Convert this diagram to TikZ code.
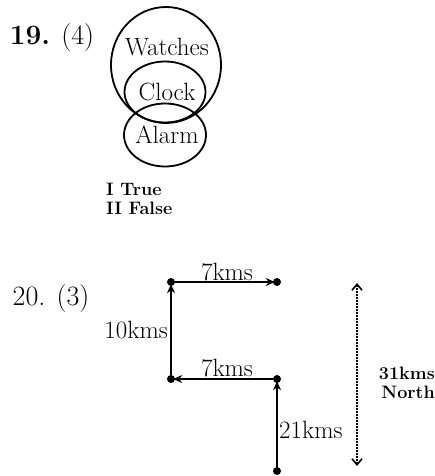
\documentclass[tikz,border=0pt]{standalone}
\usepackage{fontspec}
\usetikzlibrary{arrows.meta,shapes.geometric}
\begin{document}
\begin{tikzpicture}[x=1pt,y=-1pt,
  ring/.style={draw, ellipse, line width=1.8pt, inner sep=0pt},
  title/.style={inner sep=0pt, font=\fontsize{28}{32}\selectfont},
  lbl/.style={inner sep=0pt, font=\fontsize{25}{28}\selectfont},
  blbl/.style={inner sep=0pt, font=\fontsize{18}{19.5}\selectfont\bfseries},
  dotv/.style={circle, fill, inner sep=0pt, minimum size=8pt},
  walk/.style={line width=1.8pt, -{Stealth[length=9pt,width=8pt]}, shorten >=-2pt},
  span/.style={line width=1.6pt, dash pattern=on 2pt off 1pt,
    {Straight Barb[length=6pt,width=10pt]}-{Straight Barb[length=6pt,width=10pt]}}]
\useasboundingbox (0,0) rectangle (435,476);
% ---- Question 19 ----
\node[title] (q19) at (52,38) {\textbf{19.} (4)};
\node[ring, minimum width=110pt, minimum height=116pt] (watches) at (166,65) {};
\node[ring, minimum width=81pt, minimum height=61pt] (clock) at (165,92) {};
\node[ring, minimum width=82pt, minimum height=63pt] (alarm) at (165,135) {};
\node[lbl] (tw) at (167,47) {Watches};
\node[lbl] (tc) at (167,92) {Clock};
\node[lbl] (ta) at (167,135) {Alarm};
\node[blbl, anchor=west, align=left] (tf) at (106,199) {I True\\II False};
% ---- Question 20 ----
\node[title] (q20) at (51,299) {20. (3)};
\node[dotv] (A) at (171,282) {};
\node[dotv] (B) at (277,282) {};
\node[dotv] (C) at (171,379) {};
\node[dotv] (D) at (277,379) {};
\node[dotv] (E) at (277,471) {};
\draw[walk] (E) -- (D);
\draw[walk] (D) -- (C);
\draw[walk] (C) -- (A);
\draw[walk] (A) -- (B);
\node[lbl] (l1) at (227,272) {7kms};
\node[lbl, anchor=east] (l2) at (168,330) {10kms};
\node[lbl] (l3) at (227,368) {7kms};
\node[lbl, anchor=west] (l4) at (279,430) {21kms};
\coordinate (ntop) at (357,283);
\coordinate (nbot) at (357,466);
\draw[span] (ntop) -- (nbot);
\node[blbl, anchor=east, align=right] (n1) at (435,383) {31kms\\North};
\end{tikzpicture}
\end{document}
